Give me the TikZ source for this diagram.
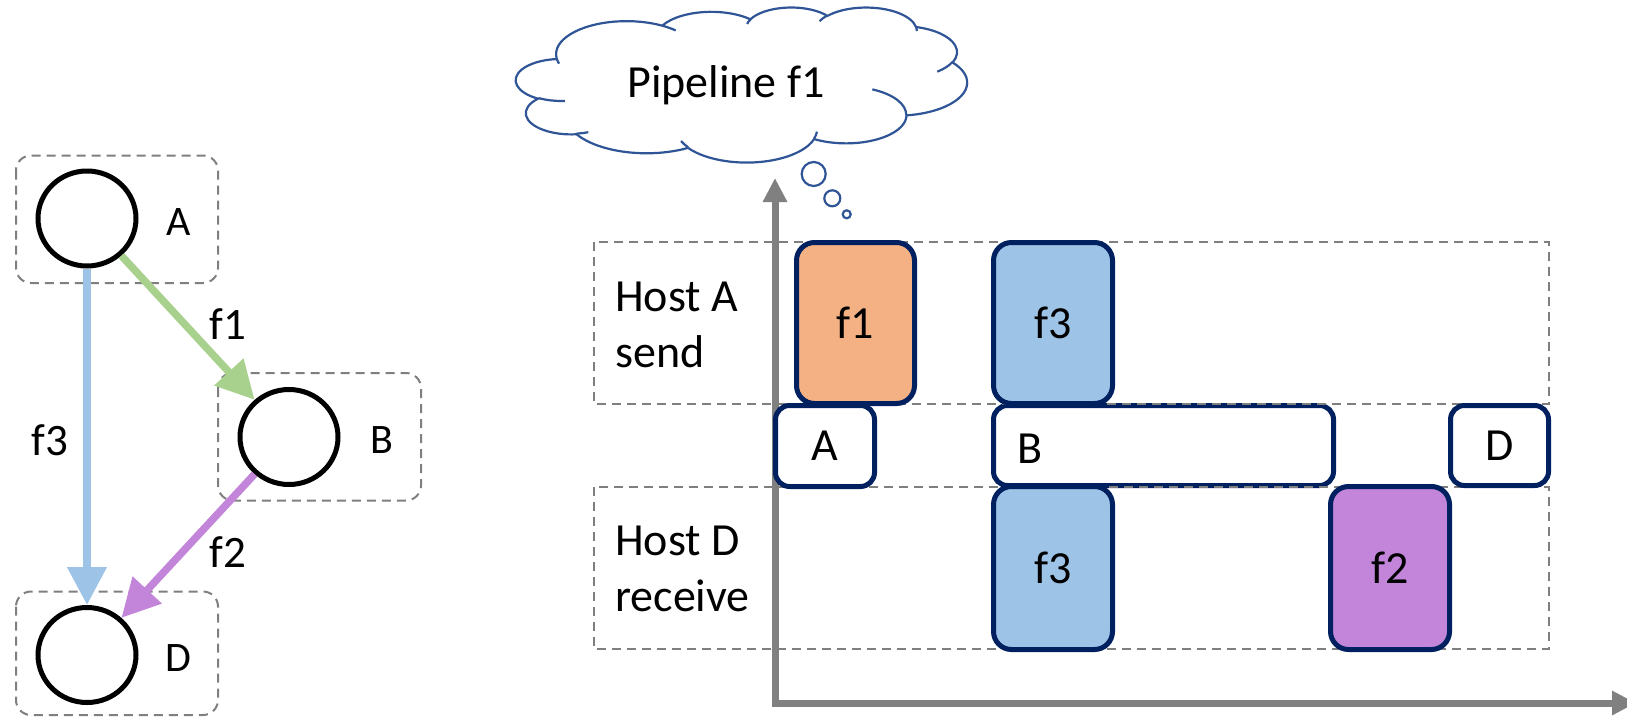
\documentclass[tikz,border=0pt]{standalone}
\usepackage{fontspec}
\setmainfont{Carlito}
\usetikzlibrary{arrows.meta,shapes.geometric}

\definecolor{navy}{HTML}{002060}
\definecolor{dashgray}{HTML}{7F7F7F}
\definecolor{axisgray}{HTML}{808080}
\definecolor{cloudblue}{HTML}{2F5597}
\definecolor{orangefill}{HTML}{F4B183}
\definecolor{bluefill}{HTML}{9DC3E6}
\definecolor{purplefill}{HTML}{C285DA}
\definecolor{greenedge}{HTML}{A9D18E}

% Elliptic arc given by its visual start angle and sweep (DrawingML style),
% appended to \cldpath as a TikZ arc with parametric angles.
\newcommand\cldarc[4]{%
  \pgfmathsetmacro\cldS{atan2((#1)*sin(#3),(#2)*cos(#3))}%
  \pgfmathsetmacro\cldT{atan2((#1)*sin((#3)+(#4)),(#2)*cos((#3)+(#4)))}%
  \pgfmathsetmacro\cldD{\cldT-(\cldS)}%
  \pgfmathsetmacro\cldD{\cldD+360*(\cldD<0)}%
  \xdef\cldpath{\cldpath arc[start angle=\cldS, delta angle=\cldD, x radius=#1, y radius=#2]}%
}
\newcommand\cldmove[2]{\xdef\cldpath{\cldpath (#1,#2)}}

\begin{document}
\begin{tikzpicture}[x=1pt,y=-1pt,
  hostframe/.style={draw=dashgray, line width=2pt, dash pattern=on 9pt off 6pt, rounded corners=15pt},
  lane/.style={draw=dashgray, line width=2pt, dash pattern=on 9pt off 6pt},
  vertex/.style={ellipse, draw=black, line width=5pt, minimum width=98pt, minimum height=95pt, inner sep=0pt},
  flowarrow/.style={line width=7.5pt, -{Triangle[length=38pt,width=38pt]}},
  glabel/.style={font=\fontsize{42}{50}\selectfont, anchor=base, inner sep=0pt},
  flabel/.style={font=\fontsize{45}{54}\selectfont, anchor=base, inner sep=0pt},
  txt/.style={font=\fontsize{46}{56}\selectfont, inner sep=0pt},
  tbox/.style={draw=navy, line width=5pt, rounded corners=18pt, inner sep=0pt, font=\fontsize{46}{56}\selectfont},
  hbox/.style={tbox, fill=white, rounded corners=14pt},
  cloudline/.style={draw=cloudblue, line width=2.2pt},
  timeaxis/.style={draw=axisgray, line width=7pt, line join=miter,
    {Triangle[length=24pt,width=23pt]}-{Triangle[length=24pt,width=23pt]}}
]
\useasboundingbox (0,0) rectangle (1627,718);

% ---------- cloud outline (43200-unit frame scaled down by 100) ----------
\gdef\cldpath{}
\cldarc{67.53}{91.90}{-190.48748}{123.78053}
\cldarc{53.33}{72.67}{-144.10238}{89.94523}
\cldarc{43.65}{59.45}{-145.80792}{99.72302}
\cldarc{48.57}{65.95}{-130.98607}{117.24173}
\cldarc{53.33}{72.73}{-78.70888}{109.02692}
\cldarc{67.75}{92.20}{-46.26725}{130.26900}
\cldarc{57.85}{78.67}{0.62502}{114.03333}
\cldarc{67.52}{92.15}{22.45160}{115.17255}
\cldarc{77.20}{105.43}{66.24263}{75.71102}
\cldarc{43.60}{59.18}{-274.94208}{146.73557}
\cldarc{43.45}{59.45}{-246.82850}{152.51885}
\global\let\cldouter\cldpath
\gdef\cldpath{}
\cldmove{46.93}{261.77}\cldarc{43.45}{59.45}{86.74200}{26.42950}
\cldmove{69.28}{348.99}\cldarc{43.60}{59.18}{73.61047}{11.44747}
\cldmove{164.78}{390.90}\cldarc{67.52}{92.15}{137.62415}{14.08110}
\cldmove{288.27}{347.51}\cldarc{67.52}{92.15}{6.45327}{15.99835}
\cldmove{341.29}{229.54}\cldarc{57.85}{78.67}{-70.29235}{70.91737}
\cldmove{417.98}{153.54}\cldarc{53.33}{72.73}{30.31803}{27.75150}
\cldmove{383.24}{54.26}\cldarc{48.57}{65.95}{-13.74433}{14.85890}
\cldmove{290.78}{39.52}\cldarc{48.57}{65.95}{-149.18145}{18.19537}
\cldmove{221.41}{47.20}\cldarc{43.65}{59.45}{-163.49427}{17.68635}
\cldmove{140.00}{51.92}\cldarc{67.53}{91.90}{-66.70695}{12.31935}
\cldmove{41.27}{157.89}\cldarc{67.53}{91.90}{157.65435}{11.85817}
\global\let\cldinner\cldpath

% ---------- flow graph ----------
\draw[hostframe] (16,155.5) rectangle (218,283);
\draw[hostframe] (218,373) rectangle (421,500.5);
\draw[hostframe] (16,591.5) rectangle (218,715);

\node[vertex] (vA) at (87,218.5) {};
\node[vertex] (vB) at (289,437) {};
\node[vertex] (vD) at (87,655) {};
\node[glabel] (lA) at (179,235) {A};
\node[glabel] (lB) at (382,453) {B};
\node[glabel] (lD) at (178,671.5) {D};

\draw[flowarrow, color=bluefill] (vA) -- (vD);
\draw[flowarrow, color=greenedge] (vA) -- (vB);
\draw[flowarrow, color=purplefill] (vB) -- (vD);
\node[flabel] (ef1) at (228,339) {f1};
\node[flabel] (ef3) at (50,455) {f3};
\node[flabel] (ef2) at (228,567.5) {f2};

% ---------- thought cloud ----------
\begin{scope}[shift={(516,7)}, x=1.04398pt, y=-0.35880pt]
  \draw[cloudline, fill=white] (39,143.7) \cldouter -- cycle;
  \draw[cloudline] \cldinner;
\end{scope}
\node[txt, anchor=base] (pipe) at (726,97) {Pipeline f1};
\draw[cloudline] (813.7,174) circle[radius=12];
\draw[cloudline] (832.3,198.3) circle[radius=8];
\draw[cloudline] (846.7,214.3) circle[radius=4];

% ---------- timeline ----------
\node[hbox, minimum width=340pt, minimum height=80pt] (bB) at (1163.5,445.5) {};
\node[txt, anchor=base] (tB) at (1030,463) {B};

\draw[lane] (594,242) rectangle (1549,404);
\draw[lane] (594,487) rectangle (1549,649);
\node[txt, anchor=base west] (hA1) at (615,311) {Host A};
\node[txt, anchor=base west] (hA2) at (615,367) {send};
\node[txt, anchor=base west] (hD1) at (615,555) {Host D};
\node[txt, anchor=base west] (hD2) at (615,611) {receive};

\coordinate (ytop) at (775,178);
\coordinate (origin) at (775,703);
\coordinate (xend) at (1636,703);
\draw[timeaxis] (ytop) -- (origin) -- (xend);

\node[tbox, fill=orangefill, minimum width=118pt, minimum height=161pt] (sf1) at (855.5,323) {f1};
\node[tbox, fill=bluefill, minimum width=119pt, minimum height=161pt] (sf3) at (1053,323) {f3};
\node[tbox, fill=bluefill, minimum width=119pt, minimum height=163pt] (rf3) at (1053,568) {f3};
\node[tbox, fill=purplefill, minimum width=119pt, minimum height=163pt] (rf2) at (1390,568) {f2};
\node[hbox, minimum width=99pt, minimum height=81pt] (bA) at (825,446) {A};
\node[hbox, minimum width=98pt, minimum height=80pt] (bD) at (1499.5,445.5) {D};
\end{tikzpicture}
\end{document}
